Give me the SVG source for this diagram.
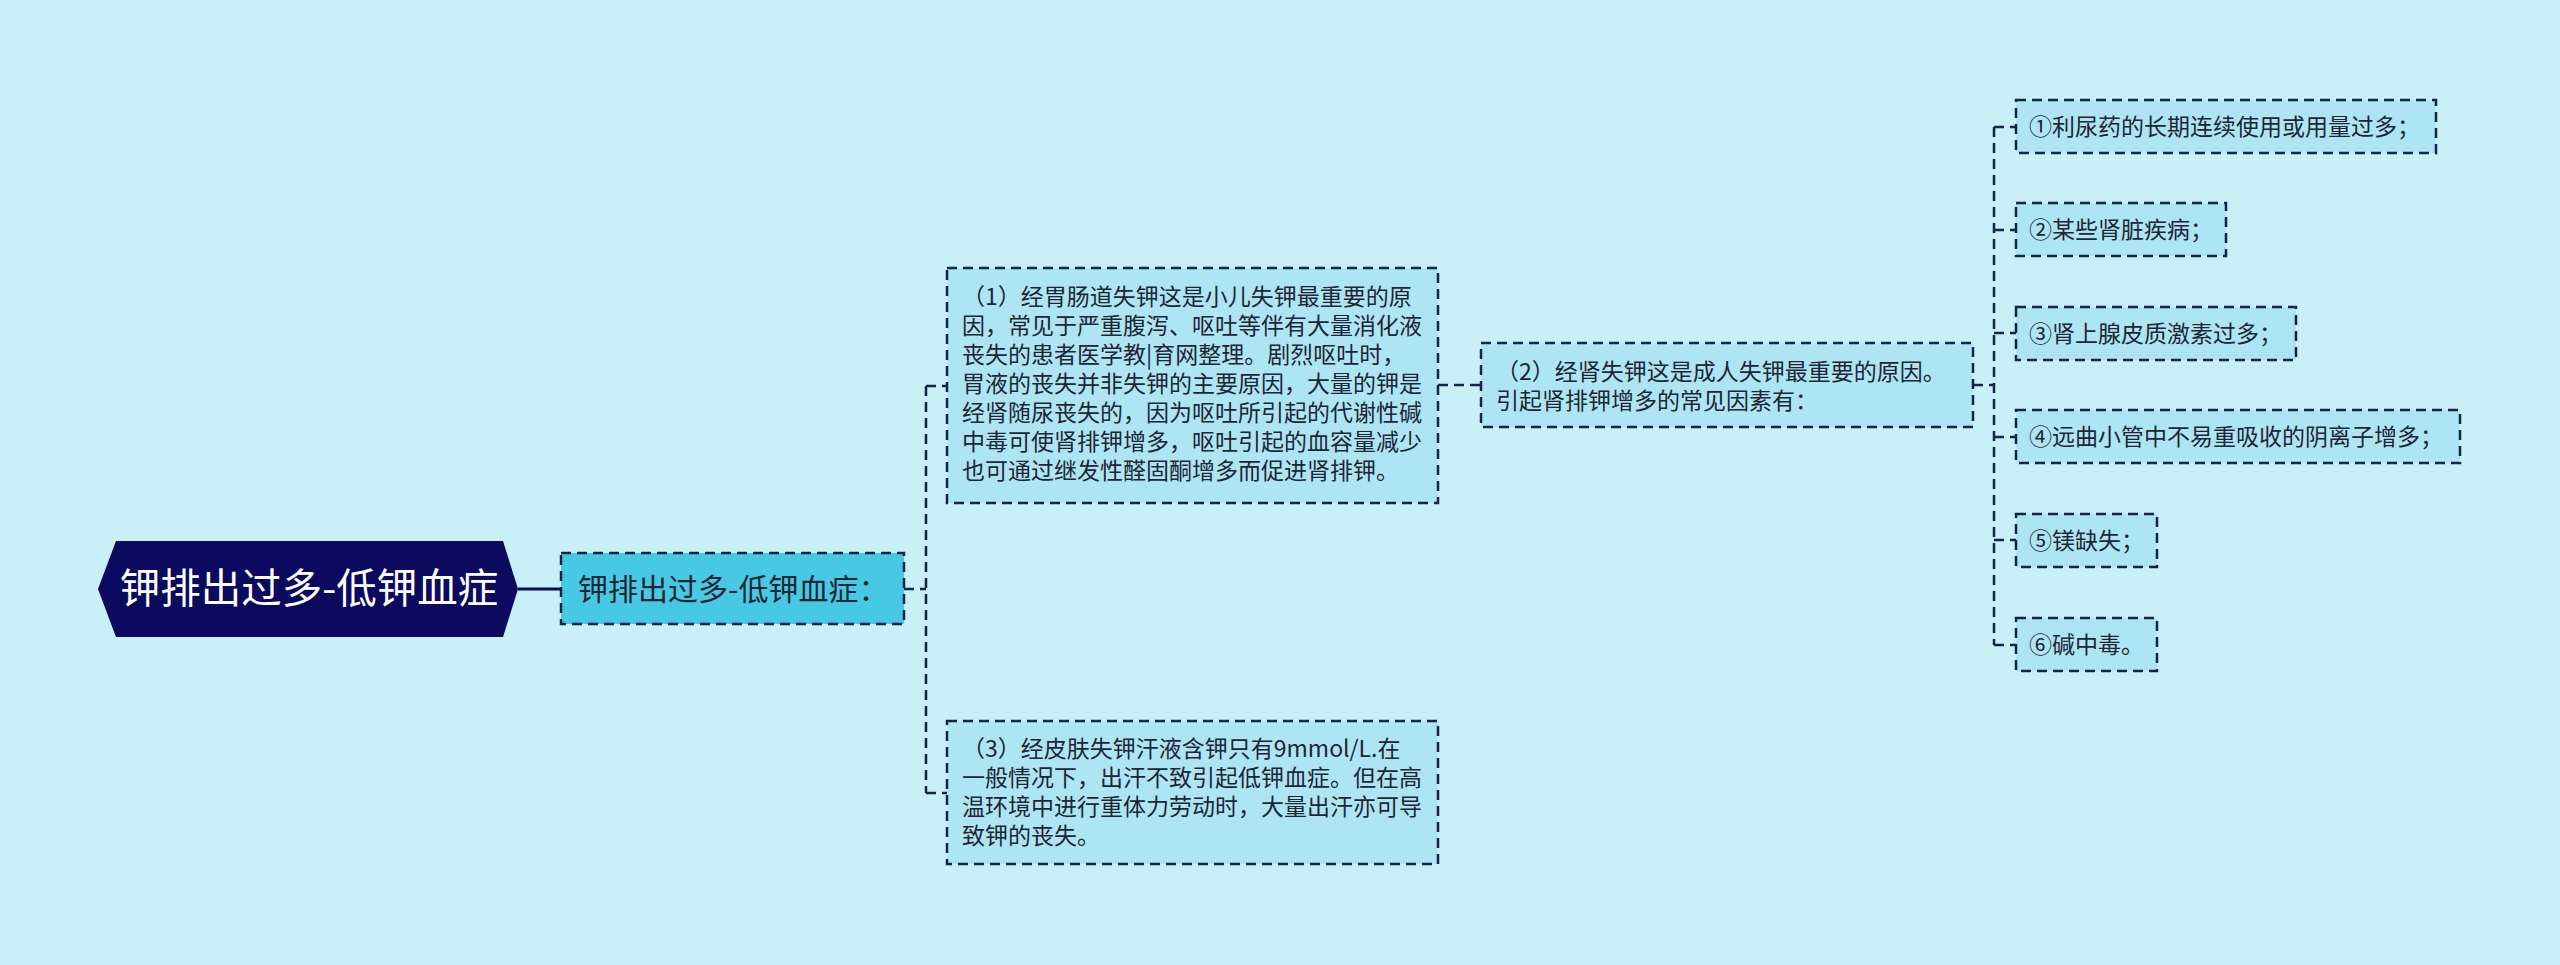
<svg xmlns="http://www.w3.org/2000/svg" width="2560" height="965" viewBox="0 0 2560 965">
<style>
.bg{fill:#c9eff7}
.box{fill:#ade5f3;stroke:#16234a;stroke-width:2.5;stroke-dasharray:10 6}
.l1{fill:#48c9e3;stroke:#16234a;stroke-width:2.5;stroke-dasharray:10 6}
.root{fill:#0b0a5e}
.t{font-family:"Noto Sans CJK SC","Noto Sans",sans-serif;font-size:23px;fill:#1e2535}
.rt{font-family:"Noto Sans CJK SC","Noto Sans",sans-serif;font-size:40.5px;fill:#ffffff}
.l1t{font-family:"Noto Sans CJK SC","Noto Sans",sans-serif;font-size:30px;fill:#1e2535}
.c{fill:none;stroke:#16234a;stroke-width:2.5;stroke-dasharray:10 6}
.cs{fill:none;stroke:#0b0a5e;stroke-width:3}
</style>
<rect class="bg" x="0" y="0" width="2560" height="965"/>
<g id="connectors">
<path class="cs" d="M518 589 H561"/>
<path class="c" d="M904 589 H926"/>
<path class="c" d="M926 386 V793"/>
<path class="c" d="M926 386 H947"/>
<path class="c" d="M926 793 H947"/>
<path class="c" d="M1438 385 H1481"/>
<path class="c" d="M1973 385 H1994"/>
<path class="c" d="M1994 127 V645"/>
<path class="c" d="M1994 127 H2016"/>
<path class="c" d="M1994 230 H2016"/>
<path class="c" d="M1994 333 H2016"/>
<path class="c" d="M1994 437 H2016"/>
<path class="c" d="M1994 540 H2016"/>
<path class="c" d="M1994 645 H2016"/>
</g>
<g id="root">
<polygon class="root" points="98,589 116,541 503,541 518,589 503,637 116,637"/>
<text class="rt" x="309" y="603" text-anchor="middle">钾排出过多-低钾血症</text>
</g>
<g id="level1">
<rect class="l1" x="561" y="553" width="343" height="71"/>
<text class="l1t" x="578" y="600">钾排出过多-低钾血症：</text>
</g>
<g id="node1">
<rect class="box" x="947" y="268" width="491" height="235"/>
<text class="t">
<tspan x="962" y="305">（1）经胃肠道失钾这是小儿失钾最重要的原</tspan>
<tspan x="962" y="334">因，常见于严重腹泻、呕吐等伴有大量消化液</tspan>
<tspan x="962" y="363">丧失的患者医学教|育网整理。剧烈呕吐时，</tspan>
<tspan x="962" y="392">胃液的丧失并非失钾的主要原因，大量的钾是</tspan>
<tspan x="962" y="421">经肾随尿丧失的，因为呕吐所引起的代谢性碱</tspan>
<tspan x="962" y="450">中毒可使肾排钾增多，呕吐引起的血容量减少</tspan>
<tspan x="962" y="479">也可通过继发性醛固酮增多而促进肾排钾。</tspan>
</text>
</g>
<g id="node3">
<rect class="box" x="947" y="721" width="491" height="143"/>
<text class="t">
<tspan x="962" y="757">（3）经皮肤失钾汗液含钾只有9mmol/L.在</tspan>
<tspan x="962" y="786">一般情况下，出汗不致引起低钾血症。但在高</tspan>
<tspan x="962" y="815">温环境中进行重体力劳动时，大量出汗亦可导</tspan>
<tspan x="962" y="844">致钾的丧失。</tspan>
</text>
</g>
<g id="node2">
<rect class="box" x="1481" y="343" width="492" height="84"/>
<text class="t">
<tspan x="1496" y="380">（2）经肾失钾这是成人失钾最重要的原因。</tspan>
<tspan x="1496" y="409">引起肾排钾增多的常见因素有：</tspan>
</text>
</g>
<g id="leaf1">
<rect class="box" x="2016" y="100" width="420" height="53"/>
<text class="t" x="2029" y="135">①利尿药的长期连续使用或用量过多；</text>
</g>
<g id="leaf2">
<rect class="box" x="2016" y="203" width="210" height="53"/>
<text class="t" x="2029" y="238">②某些肾脏疾病；</text>
</g>
<g id="leaf3">
<rect class="box" x="2016" y="307" width="280" height="53"/>
<text class="t" x="2029" y="342">③肾上腺皮质激素过多；</text>
</g>
<g id="leaf4">
<rect class="box" x="2016" y="410" width="444" height="53"/>
<text class="t" x="2029" y="445">④远曲小管中不易重吸收的阴离子增多；</text>
</g>
<g id="leaf5">
<rect class="box" x="2016" y="514" width="141" height="53"/>
<text class="t" x="2029" y="549">⑤镁缺失；</text>
</g>
<g id="leaf6">
<rect class="box" x="2016" y="618" width="141" height="53"/>
<text class="t" x="2029" y="653">⑥碱中毒。</text>
</g>
</svg>
